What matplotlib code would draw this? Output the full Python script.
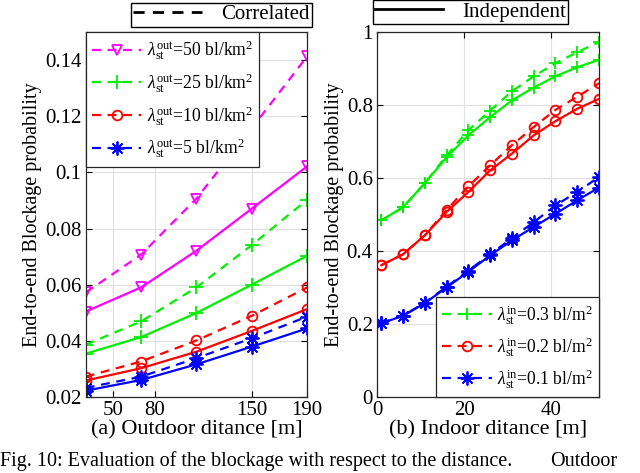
import matplotlib.pyplot as plt
from matplotlib.lines import Line2D

plt.rcParams['font.family'] = ['Liberation Serif', 'DejaVu Serif']
plt.rcParams['mathtext.fontset'] = 'custom'
plt.rcParams['mathtext.rm'] = 'Liberation Serif'
plt.rcParams['mathtext.it'] = 'Liberation Serif:italic'

# outdoor distance [m]
x_out = [30, 70, 110, 150, 190]
corr_50 = [0.0572, 0.0707, 0.0907, 0.1158, 0.1414]
ind_50 = [0.0504, 0.0590, 0.0721, 0.0871, 0.1022]
corr_25 = [0.0386, 0.0469, 0.0590, 0.0741, 0.0903]
ind_25 = [0.0354, 0.0413, 0.0499, 0.0600, 0.0703]
corr_10 = [0.0272, 0.0326, 0.0401, 0.0489, 0.0590]
ind_10 = [0.0258, 0.0302, 0.0361, 0.0435, 0.0513]
corr_5 = [0.0232, 0.0272, 0.0338, 0.0409, 0.0486]
ind_5 = [0.0222, 0.0260, 0.0316, 0.0379, 0.0444]

# indoor distance [m]
x_in = [1, 6, 11, 16, 21, 26, 31, 36, 41, 46, 51]
corr_03 = [0.484, 0.520, 0.586, 0.662, 0.731, 0.785, 0.838, 0.879, 0.915, 0.945, 0.973]
ind_03 = [0.484, 0.520, 0.586, 0.657, 0.717, 0.767, 0.813, 0.848, 0.879, 0.904, 0.924]
corr_02 = [0.361, 0.391, 0.443, 0.513, 0.577, 0.635, 0.690, 0.740, 0.787, 0.823, 0.860]
ind_02 = [0.361, 0.391, 0.443, 0.507, 0.562, 0.621, 0.667, 0.717, 0.756, 0.790, 0.817]
corr_01 = [0.202, 0.223, 0.258, 0.302, 0.346, 0.391, 0.435, 0.479, 0.525, 0.562, 0.603]
ind_01 = [0.202, 0.222, 0.257, 0.300, 0.343, 0.388, 0.429, 0.466, 0.502, 0.539, 0.574]

out_labels = [r'$\lambda_{\rm st}^{\rm out}$=50 bl/km$^2$', r'$\lambda_{\rm st}^{\rm out}$=25 bl/km$^2$',
              r'$\lambda_{\rm st}^{\rm out}$=10 bl/km$^2$', r'$\lambda_{\rm st}^{\rm out}$=5 bl/km$^2$']
in_labels = [r'$\lambda_{\rm st}^{\rm in}$=0.3 bl/m$^2$', r'$\lambda_{\rm st}^{\rm in}$=0.2 bl/m$^2$',
             r'$\lambda_{\rm st}^{\rm in}$=0.1 bl/m$^2$']

MAG, GRN, RED, BLU = '#ff00ff', '#00f000', '#ff0000', '#0000ff'
AST = (8, 2, 0)

fig = plt.figure(figsize=(6.4, 4.73), dpi=100)
ax1 = fig.add_axes([0.134, 0.161, 0.346, 0.771])
ax2 = fig.add_axes([0.589, 0.161, 0.347, 0.771])

def style(ax):
    ax.grid(True, color='#e0e0e0', linewidth=0.8)
    ax.set_axisbelow(True)
    ax.tick_params(direction='in', top=True, right=True, labelsize=15, length=4, width=0.8, pad=3)
    for s in ax.spines.values():
        s.set_linewidth(0.9)
        s.set_color('#262626')
    ax.set_ylabel('End-to-end Blockage probability', fontsize=14.5, labelpad=2)

# left panel
series = [(corr_50, ind_50, MAG, 'v', 7), (corr_25, ind_25, GRN, '+', 10),
          (corr_10, ind_10, RED, 'o', 7), (corr_5, ind_5, BLU, AST, 10)]
handles = []
for (c, i, col, m, ms), lab in zip(series, out_labels):
    h, = ax1.plot(x_out, c, '--', color=col, marker=m, ms=ms, mfc='none', mew=1.3, lw=1.6,
                  dashes=(4, 3), label=lab)
    ax1.plot(x_out, i, '-', color=col, marker=m, ms=ms, mfc='none', mew=1.3, lw=1.6)
    handles.append(h)
ax1.set_xlim(30, 190)
ax1.set_ylim(0.02, 0.15)
ax1.set_xticks([50, 80, 150, 190])
ax1.set_yticks([0.02, 0.04, 0.06, 0.08, 0.1, 0.12, 0.14])
ax1.set_yticklabels(['0.02', '0.04', '0.06', '0.08', '0.1', '0.12', '0.14'])
style(ax1)
ax1.set_xlabel('(a) Outdoor ditance [m]', fontsize=16, labelpad=0)
leg1 = ax1.legend(handles=handles, loc='upper left', bbox_to_anchor=(0, 1), borderaxespad=0,
                  fontsize=12.7, handlelength=2.8, fancybox=False, edgecolor='#262626',
                  framealpha=1, labelspacing=0.5, borderpad=0.35, handletextpad=0.3)
leg1.get_frame().set_linewidth(0.9)

# right panel
series2 = [(corr_03, ind_03, GRN, '+', 9), (corr_02, ind_02, RED, 'o', 7), (corr_01, ind_01, BLU, AST, 10)]
handles2 = []
for (c, i, col, m, ms), lab in zip(series2, in_labels):
    h, = ax2.plot(x_in, c, '--', color=col, marker=m, ms=ms, mfc='none', mew=1.3, lw=1.6,
                  dashes=(4, 3), label=lab)
    ax2.plot(x_in, i, '-', color=col, marker=m, ms=ms, mfc='none', mew=1.3, lw=1.6)
    handles2.append(h)
ax2.set_xlim(0, 51)
ax2.set_ylim(0, 1)
ax2.set_xticks([0, 20, 40])
ax2.set_yticks([0, 0.2, 0.4, 0.6, 0.8, 1])
ax2.set_yticklabels(['0', '0.2', '0.4', '0.6', '0.8', '1'])
style(ax2)
ax2.set_xlabel('(b) Indoor ditance [m]', fontsize=16, labelpad=0)
leg2 = ax2.legend(handles=handles2, loc='lower right', bbox_to_anchor=(1, 0), borderaxespad=0,
                  fontsize=12.7, handlelength=2.8, fancybox=False, edgecolor='#262626',
                  framealpha=1, labelspacing=0.45, borderpad=0.35, handletextpad=0.3)
leg2.get_frame().set_linewidth(0.9)

# line-style legends above the panels
corr_h = Line2D([], [], color='black', ls='--', lw=2, dashes=(4, 3))
ind_h = Line2D([], [], color='black', ls='-', lw=2)
for h, lab, pos in [(corr_h, 'Correlated', (0.346, 0.969)), (ind_h, 'Independent', (0.735, 0.975))]:
    lg = fig.legend(handles=[h], labels=[lab], loc='center', bbox_to_anchor=pos, fontsize=15,
                    handlelength=3.3, fancybox=False, edgecolor='black', framealpha=1,
                    borderpad=0.1, handletextpad=0.9, borderaxespad=0)
    lg.get_frame().set_linewidth(1.0)

fig.text(0.0, 0.004, 'Fig. 10: Evaluation of the blockage with respect to the distance.',
         fontsize=14.5, ha='left', va='bottom')
fig.text(0.859, 0.004, 'Outdoor', fontsize=14.5, ha='left', va='bottom')

fig.savefig('out.png', dpi=100)
